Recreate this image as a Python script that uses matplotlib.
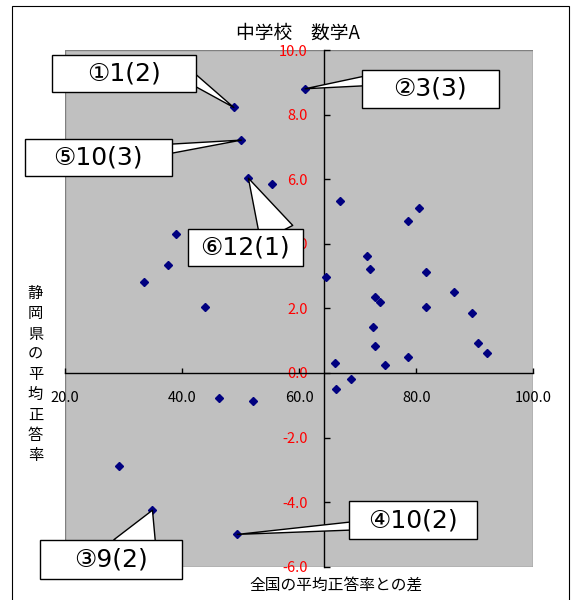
import matplotlib
matplotlib.use("Agg")
import matplotlib.pyplot as plt
from matplotlib.patches import Rectangle
from matplotlib.path import Path
from matplotlib.ticker import FormatStrFormatter

plt.rcParams['font.family'] = ['Noto Sans CJK JP', 'DejaVu Sans']

# 各問題: 横 = 平均正答率, 縦 = 全国との差
rate = [48.8, 50.1, 51.3, 55.4, 38.9, 37.6, 33.5, 43.8, 46.2, 52.0, 29.1, 34.9,
        49.4, 61.0, 67.0, 80.5, 78.5, 71.5, 72.1, 64.6, 81.7, 86.4, 73.0, 73.8,
        81.6, 89.5, 72.6, 73.0, 90.6, 92.0, 66.1, 78.5, 74.7, 68.9, 66.3]
diff = [8.22, 7.21, 6.03, 5.85, 4.31, 3.35, 2.82, 2.03, -0.79, -0.86, -2.89, -4.25,
        -5.00, 8.80, 5.32, 5.11, 4.71, 3.61, 3.22, 2.96, 3.12, 2.52, 2.34, 2.20,
        2.03, 1.85, 1.42, 0.84, 0.94, 0.63, 0.32, 0.49, 0.24, -0.18, -0.49]

# 吹き出し (対象の点の番号と文字)
callout_idx = [0, 13, 11, 12, 1, 2]
callout_labels = ["①1(2)", "②3(3)", "③9(2)", "④10(2)", "⑤10(3)", "⑥12(1)"]

x_ticks = [20, 40, 60, 80, 100]
y_ticks = [-6, -4, -2, 0, 2, 4, 6, 8, 10]
x_cross = 64.3  # 縦軸の位置

title = "中学校　数学A"
xlabel = "全国の平均正答率との差"
ylabel = "静岡県の平均正答率"

# 吹き出しの配置 (px): 文字の中心, 箱の大きさ, くさびの根元, くさびの幅
co_offset = [(-110, 34), (125, 0), (-41, -49), (176, 14), (-143, -17), (-3, -69)]
co_box = [(144, 37), (137, 38), (142, 39), (128, 38), (147, 37), (115, 37)]
co_root = [(-42.6, 29.7), (62, 8.1), (-17.1, -39), (118, 8.7), (-75.3, -9.2), (28.3, -55.4)]
co_tail = [11.3, 10, 47, 8.4, 9.8, 36]
co_fs = 18
co_family = ['DejaVu Sans', 'Noto Sans CJK JP']


def box_style(w, h):
    def style(x0, y0, width, height, mutation_size):
        cx = x0 + width / 2
        cy = y0 + height / 2
        l, r = cx - w / 2, cx + w / 2
        b, t = cy - h / 2, cy + h / 2
        return Path([(l, b), (r, b), (r, t), (l, t), (l, b)], closed=True)
    return style


W, H = 572, 600
fig = plt.figure(figsize=(W / 100, H / 100), dpi=100)

# 外枠
fig.patches.append(Rectangle((12 / W, -0.05), 557 / W, 1.05 - 6 / H,
                             transform=fig.transFigure, fill=False,
                             ec='black', lw=0.8))

ax = fig.add_axes([65.3 / W, 1 - 566.7 / H, 468 / W, 516.7 / H])
ax.set_facecolor('#c0c0c0')
ax.plot(rate, diff, 'D', color='#000080', ms=3.8, zorder=3)

ax.set_xlim(20, 100)
ax.set_ylim(-6, 10)
ax.set_xticks(x_ticks)
ax.set_yticks(y_ticks)
ax.xaxis.set_major_formatter(FormatStrFormatter('%.1f'))
ax.yaxis.set_major_formatter(FormatStrFormatter('%.1f'))

ax.spines['left'].set_position(('data', x_cross))
ax.spines['bottom'].set_position(('data', 0))
for s in ['left', 'bottom']:
    ax.spines[s].set_color('black')
    ax.spines[s].set_linewidth(1.0)
for s in ['top', 'right']:
    ax.spines[s].set_visible(False)
ax.add_patch(Rectangle((0, 0), 1, 1, transform=ax.transAxes, fill=False,
                       ec='#808080', lw=1.0, zorder=1))

ax.tick_params(axis='y', direction='in', length=4, width=1, pad=12,
               labelcolor='red', labelsize=10.5)
ax.tick_params(axis='x', direction='in', length=3.5, width=1, pad=13,
               labelsize=10.5)

# 吹き出し: くさびを先に描き, 箱を上に重ねる
for i, lab, off, box, root, tail in zip(callout_idx, callout_labels, co_offset,
                                        co_box, co_root, co_tail):
    xy = (rate[i], diff[i])
    tw = tail / (co_fs * 100 / 72)
    ax.annotate("", xy=xy, xytext=root, textcoords='offset pixels', zorder=4,
                fontsize=co_fs,
                arrowprops=dict(arrowstyle=f"wedge,tail_width={tw:.3f},shrink_factor=0.5",
                                fc='white', ec='black', lw=1.0,
                                shrinkA=0, shrinkB=0))
    ax.annotate(lab, xy=xy, xytext=off, textcoords='offset pixels',
                ha='center', va='center', fontsize=co_fs, family=co_family,
                zorder=5,
                bbox=dict(boxstyle=box_style(*box), fc='white', ec='black', lw=1.0))

fig.text(298 / W, 1 - 33 / H, title, ha='center', va='center', fontsize=13.5)
fig.text(336 / W, 1 - 585 / H, xlabel, ha='center', va='center', fontsize=11.3)
fig.text(35.5 / W, 1 - 374.5 / H, "\n".join(ylabel), ha='center', va='center',
         fontsize=11, linespacing=1.25)

fig.savefig('out.png', dpi=100)
plt.close(fig)
